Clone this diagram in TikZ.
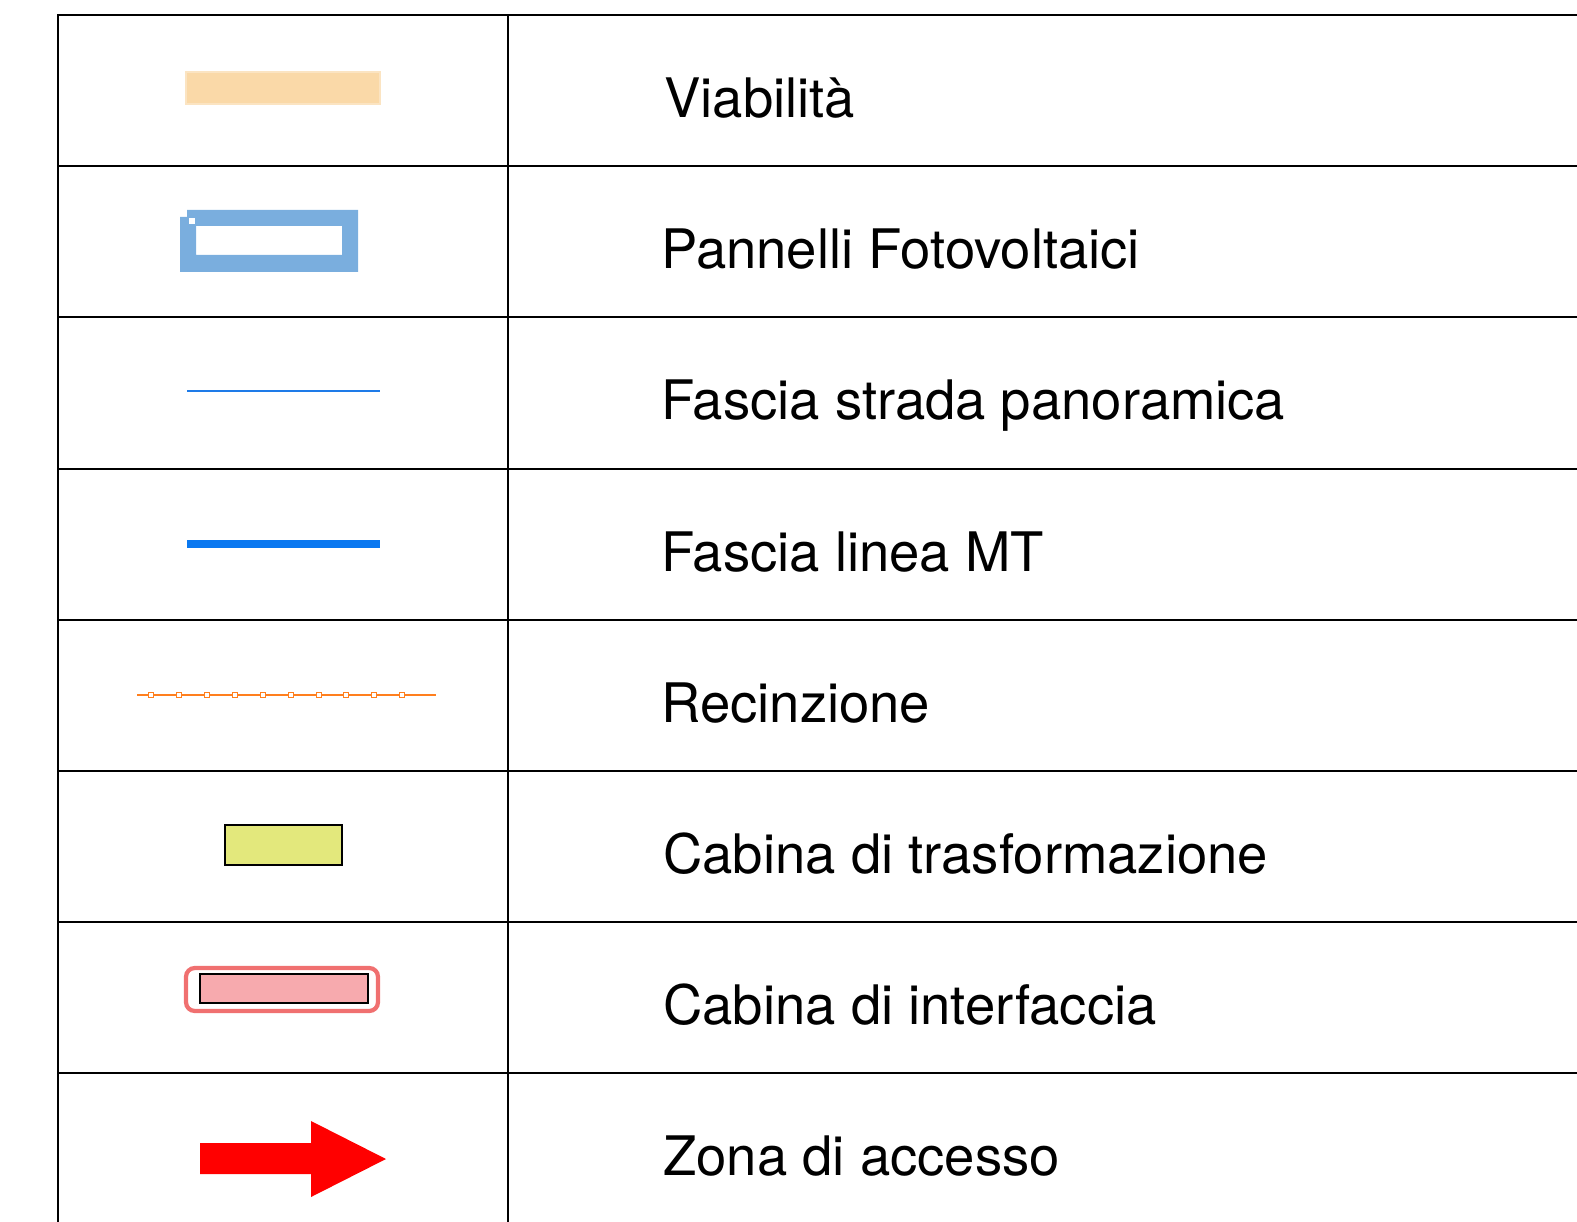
\documentclass[tikz,border=0pt]{standalone}
\usepackage{fontspec}
\setmainfont{TeX Gyre Heros}
\definecolor{viab}{HTML}{FAD9A8}
\definecolor{panel}{HTML}{7AAEDE}
\definecolor{thinblue}{HTML}{1E7BE8}
\definecolor{mtblue}{HTML}{0A78F0}
\definecolor{fence}{HTML}{FF7F1E}
\definecolor{trasf}{HTML}{E3E87C}
\definecolor{intred}{HTML}{F07070}
\definecolor{intpink}{HTML}{F7AAAE}
\definecolor{accred}{HTML}{FF0000}
\tikzset{
  grid line/.style={draw=black, line width=1.2pt},
  label text/.style={anchor=base west, inner sep=0pt, font=\fontsize{31}{37}\selectfont},
  fencepost/.style={draw=fence, fill=white, line width=0.5pt, minimum size=2.4pt, inner sep=0pt}
}
\begin{document}
\begin{tikzpicture}[x=0.02cm, y=-0.02cm]
\useasboundingbox (0,0) rectangle (1577,1222);
% table
\draw[grid line] (1577,15) -- (58,15) -- (58,1222);
\draw[grid line] (508,15) -- (508,1222);
\foreach \yy in {166,317,469,620,771,922,1073}
  \draw[grid line] (58,\yy) -- (1577,\yy);
% labels
\node[label text] (t1) at (664,118) {Viabilità};
\node[label text] (t2) at (661,269) {Pannelli Fotovoltaici};
\node[label text] (t3) at (661,420) {Fascia strada panoramica};
\node[label text] (t4) at (661,571) {Fascia linea MT};
\node[label text] (t5) at (661,722) {Recinzione};
\node[label text] (t6) at (663,873) {Cabina di trasformazione};
\node[label text] (t7) at (663,1024) {Cabina di interfaccia};
\node[label text] (t8) at (663,1175) {Zona di accesso};
% 1 viabilita
\fill[viab] (186,72) rectangle (380,104);
\draw[viab!70!white, line width=0.6pt] (186,72) rectangle (380,104);
% 2 pannelli
\fill[panel, even odd rule] (187,210) -- (358,210) -- (358,272) -- (180,272) -- (180,217) -- (187,217) -- cycle
  (196,226) rectangle (342,255);
\fill[white] (189,218) rectangle (195,224);
% 3 thin blue line
\draw[thinblue, line width=1pt] (187,391) -- (380,391);
% 4 thick blue line
\draw[mtblue, line width=4pt] (187,544) -- (380,544);
% 5 fence
\draw[fence, line width=1pt] (137,695) -- (436,695);
\foreach \xx in {151,179,207,235,263,291,319,346,374,402}
  \node[fencepost] at (\xx,695) {};
% 6 cabina trasformazione
\draw[black, fill=trasf, line width=0.8pt] (225,825) rectangle (342,865);
% 7 cabina interfaccia
\draw[intred, line width=2.4pt, rounded corners=5pt] (186,968) rectangle (378,1011);
\draw[black, fill=intpink, line width=1pt] (200,974) rectangle (368,1003);
% 8 arrow
\fill[accred] (200,1143) -- (311,1143) -- (311,1121) -- (386,1159) -- (311,1197) -- (311,1174) -- (200,1174) -- cycle;
\end{tikzpicture}
\end{document}
